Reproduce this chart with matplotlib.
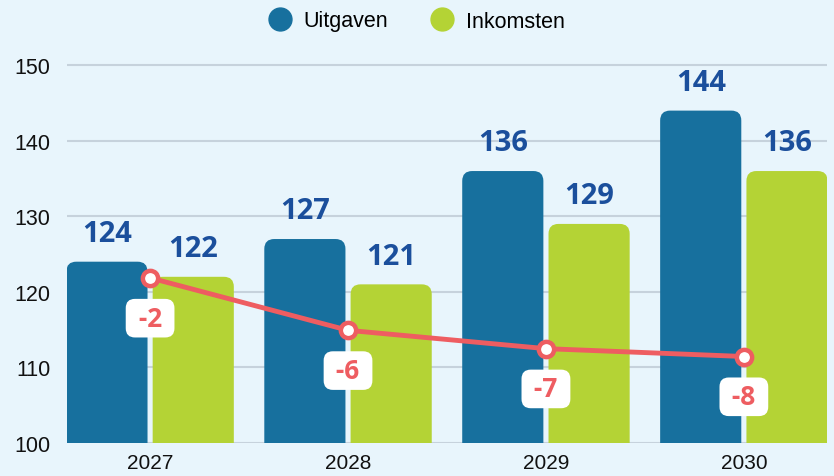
import matplotlib
matplotlib.use('Agg')
import matplotlib.pyplot as plt
from matplotlib.patches import FancyBboxPatch
from matplotlib.lines import Line2D
import numpy as np

years = ['2027', '2028', '2029', '2030']
uitgaven = [124, 127, 136, 144]
inkomsten = [122, 121, 129, 136]
saldo = [-1.9, -5.9, -7.3, -7.9]   # shown rounded in the labels

bg = '#e8f5fc'
blue = '#17709e'
green = '#b4d335'
red = '#ee5d61'
label_blue = '#1b4f9c'
grid_c = '#c6d2dc'

plt.rcParams['font.family'] = ['Liberation Sans', 'DejaVu Sans']

fig = plt.figure(figsize=(8.34, 4.77), dpi=100)
fig.patch.set_facecolor(bg)
ax = fig.add_axes([0.0803, 0.0692, 0.9113, 0.7966])
ax.set_facecolor(bg)

x = np.arange(len(years))
w = 0.41
gap = 0.026

b1 = ax.bar(x - w / 2 - gap / 2, uitgaven, w, color=blue)
b2 = ax.bar(x + w / 2 + gap / 2, inkomsten, w, color=green)

ax.set_xlim(-0.42, 3.42)
ax.set_ylim(100, 150.3)

# px -> data ratio for rounded corners
asp = (50.3 / 380) / (3.84 / 760)
for bars, col in [(b1, blue), (b2, green)]:
    for r in bars:
        r.set_visible(False)
        p = FancyBboxPatch((r.get_x(), r.get_y()), r.get_width(), r.get_height(),
                           boxstyle='round,pad=0,rounding_size=0.05',
                           mutation_aspect=asp, fc=col, ec='none', zorder=2)
        ax.add_patch(p)
        ax.annotate(str(int(r.get_height())), (r.get_x() + r.get_width() / 2, r.get_height()),
                    xytext=(0, 15), textcoords='offset points', ha='center', va='baseline',
                    fontsize=21, fontweight='bold', family=['Open Sans', 'DejaVu Sans'],
                    color=label_blue, zorder=3, annotation_clip=False)

ax.set_yticks(range(100, 151, 10))
ax.set_xticks(x, years)
ax.tick_params(axis='both', length=0, labelsize=15, colors='#111111')
ax.tick_params(axis='y', pad=12, labelsize=15.5)
ax.tick_params(axis='x', pad=7)
ax.grid(axis='y', color=grid_c, lw=1.5)
ax.set_axisbelow(True)
for s in ax.spines.values():
    s.set_visible(False)

ax2 = ax.twinx()
ax2.set_ylim(-14.5, 14.5)
ax2.axis('off')
ax2.plot(x, saldo, color=red, lw=3.5, marker='o', ms=11, mfc='white', mec=red, mew=3.2,
         zorder=4, clip_on=False)
for xi, v in zip(x, saldo):
    ax2.annotate(' %d ' % round(v), (xi, v), xytext=(0, -29), textcoords='offset points',
                 ha='center', va='center', fontsize=19, fontweight='bold',
                 family=['Open Sans', 'DejaVu Sans'], color=red, zorder=5,
                 bbox=dict(boxstyle='round,pad=0.22,rounding_size=0.35', fc='white', ec='none'))

handles = [Line2D([], [], ls='', marker='o', ms=16.5, color=blue),
           Line2D([], [], ls='', marker='o', ms=16.5, color=green)]
fig.legend(handles, ['Uitgaven', 'Inkomsten'], loc='center', bbox_to_anchor=(0.5, 1 - 22 / 477),
           ncol=2, frameon=False, fontsize=15.5, handlelength=1.0, handletextpad=0.6,
           columnspacing=2.0)

fig.savefig('out.png', dpi=100, facecolor=bg)
